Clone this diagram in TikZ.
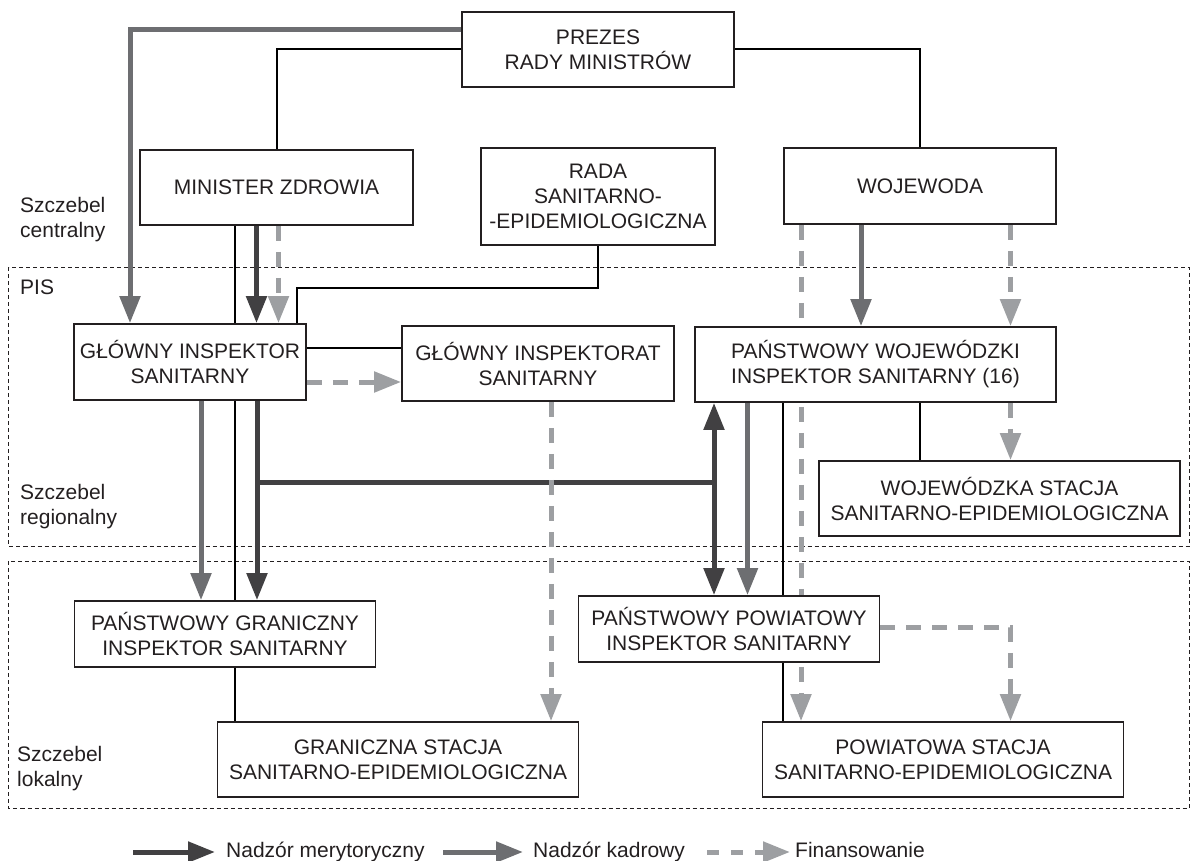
\documentclass[tikz,border=0pt]{standalone}
\usepackage{fontspec}
\setmainfont{Liberation Sans}
\usetikzlibrary{arrows.meta,backgrounds}
\definecolor{cdark}{HTML}{414042}
\definecolor{cmid}{HTML}{6D6E71}
\definecolor{clight}{HTML}{9D9FA2}
\definecolor{ctext}{HTML}{231F20}
\tikzset{
  box/.style={draw=ctext, line width=1.7pt, fill=white, inner sep=0pt, align=center, text=ctext, font=\fontsize{21}{25}\selectfont},
  lbl/.style={inner sep=0pt, align=left, text=ctext, font=\fontsize{21}{25}\selectfont},
  region/.style={draw=ctext, line width=1pt, dash pattern=on 4pt off 3pt},
  plain/.style={draw=black, line width=2pt},
  tipA/.style={-{Triangle[length=27pt,width=20pt]}},
  merit/.style={draw=cdark, line width=5pt, tipA},
  meritline/.style={draw=cdark, line width=5pt},
  meritboth/.style={draw=cdark, line width=5pt, {Triangle[length=27pt,width=20pt]}-{Triangle[length=27pt,width=20pt]}},
  kadr/.style={draw=cmid, line width=5pt, tipA},
  fin/.style={draw=clight, line width=5pt, dash pattern=on 15pt off 11pt, tipA},
}
\begin{document}
\begin{tikzpicture}[x=1pt,y=-1pt]
\useasboundingbox (0,0) rectangle (1191,861);

% boxes
\node[box, minimum width=272pt, minimum height=75pt] (prezes) at (598,49.5) {PREZES\\RADY MINISTRÓW};
\node[box, minimum width=273pt, minimum height=75pt] (mz) at (276.5,187.5) {MINISTER ZDROWIA};
\node[box, minimum width=234pt, minimum height=97pt] (rada) at (598,196.5) {RADA\\SANITARNO-\\-EPIDEMIOLOGICZNA};
\node[box, minimum width=272pt, minimum height=76pt] (woj) at (920,186) {WOJEWODA};
\node[box, minimum width=232pt, minimum height=76pt] (gis) at (190,362) {GŁÓWNY INSPEKTOR\\SANITARNY};
\node[box, minimum width=272pt, minimum height=75pt] (git) at (538,363.5) {GŁÓWNY INSPEKTORAT\\SANITARNY};
\node[box, minimum width=361pt, minimum height=75pt] (pwis) at (875.5,364.5) {PAŃSTWOWY WOJEWÓDZKI\\INSPEKTOR SANITARNY (16)};
\node[box, minimum width=361pt, minimum height=75pt] (wsse) at (999.5,498.5) {WOJEWÓDZKA STACJA\\SANITARNO-EPIDEMIOLOGICZNA};
\node[box, minimum width=301pt, minimum height=66pt] (pgis) at (225,634) {PAŃSTWOWY GRANICZNY\\INSPEKTOR SANITARNY};
\node[box, minimum width=301pt, minimum height=66pt] (ppis) at (729,629) {PAŃSTWOWY POWIATOWY\\INSPEKTOR SANITARNY};
\node[box, minimum width=361pt, minimum height=75pt] (gsse) at (398,759.5) {GRANICZNA STACJA\\SANITARNO-EPIDEMIOLOGICZNA};
\node[box, minimum width=361pt, minimum height=75pt] (psse) at (943,759.5) {POWIATOWA STACJA\\SANITARNO-EPIDEMIOLOGICZNA};

% level labels
\node[lbl, anchor=west] (lc) at (20,220) {Szczebel\\centralny};
\node[lbl, anchor=west] (pis) at (20,287) {PIS};
\node[lbl, anchor=west] (lr) at (20,507) {Szczebel\\regionalny};
\node[lbl, anchor=west] (ll) at (17,769) {Szczebel\\lokalny};

\begin{scope}[on background layer]
% regions
\draw[region] (8.5,267) rectangle (1189,546);
\draw[region] (8.5,561) rectangle (1189,808);

% from PREZES
\draw[kadr] ([yshift=19.5pt]prezes.west) -| ([xshift=-60pt]gis.north);
\draw[plain] (prezes.west) -| (mz.north);
\draw[plain] (prezes.east) -| (woj.north);

% MZ -> GIS
\draw[plain] ([xshift=-41.5pt]mz.south) -- ([xshift=-41.5pt]mz.south |- gis.north);
\draw[merit] ([xshift=-20pt]mz.south) -- ([xshift=-20pt]mz.south |- gis.north);
\draw[fin] ([xshift=2pt]mz.south) -- ([xshift=2pt]mz.south |- gis.north);

% RADA -> GIS
\draw[plain] (rada.south) -- ++(0,42) -| ([xshift=107pt]gis.north);

% GIS -> GIT
\draw[plain] ([yshift=14pt]gis.east) -- ([yshift=14pt]gis.east -| git.west);
\draw[fin] ([yshift=-20pt]gis.east) -- ([yshift=-20pt]gis.east -| git.west);

% GIS down
\draw[kadr] ([xshift=11pt]gis.south) -- ([xshift=11pt]gis.south |- pgis.north);
\draw[plain] ([xshift=45pt]gis.south) -- ([xshift=45pt]gis.south |- pgis.north);
\draw[merit] ([xshift=67pt]gis.south) -- ([xshift=67pt]gis.south |- pgis.north);
\coordinate (jl) at (257,482);
\coordinate (jr) at (714,482);
\draw[meritline] (jl) -- (jr);

% PWIS down
\draw[meritboth] ([xshift=-161.5pt]pwis.south) -- ([xshift=-161.5pt]pwis.south |- ppis.north);
\draw[kadr] ([xshift=-128pt]pwis.south) -- ([xshift=-128pt]pwis.south |- ppis.north);
\draw[plain] ([xshift=-93pt]pwis.south) -- ([xshift=-93pt]pwis.south |- ppis.north);
\draw[plain] ([xshift=-93pt]pwis.south |- ppis.south) -- ([xshift=-93pt]pwis.south |- psse.north);
\draw[plain] ([xshift=44.5pt]pwis.south) -- ([xshift=44.5pt]pwis.south |- wsse.north);
\draw[fin] ([xshift=135pt]pwis.south) -- ([xshift=135pt]pwis.south |- wsse.north);

% WOJ
\draw[fin] ([xshift=-119pt]woj.south) -- ([xshift=-119pt]woj.south |- psse.north);
\draw[kadr] ([xshift=-59pt]woj.south) -- ([xshift=-59pt]woj.south |- pwis.north);
\draw[fin] ([xshift=90.5pt]woj.south) -- ([xshift=90.5pt]woj.south |- pwis.north);

% GIT -> GSSE
\draw[fin] ([xshift=13pt]git.south) -- ([xshift=13pt]git.south |- gsse.north);

% PPIS -> PSSE
\draw[fin] ([yshift=2pt]ppis.east) -| ([xshift=67.5pt]psse.north);

% PGIS -> GSSE
\draw[plain] ([xshift=10pt]pgis.south) -- ([xshift=10pt]pgis.south |- gsse.north);
\end{scope}

% legend
\node[lbl, anchor=base west] (leg1) at (226,857) {Nadzór merytoryczny};
\node[lbl, anchor=base west] (leg2) at (533,857) {Nadzór kadrowy};
\node[lbl, anchor=base west] (leg3) at (795,857) {Finansowanie};
\coordinate (s1) at (133,852);
\coordinate (s2) at (443,852);
\coordinate (s3) at (707,852);
\draw[merit] (s1) -- ([xshift=-11pt]leg1.west |- s1);
\draw[kadr] (s2) -- ([xshift=-10pt]leg2.west |- s2);
\draw[fin, dash pattern=on 12pt off 12pt] (s3) -- ([xshift=-5pt]leg3.west |- s3);
\end{tikzpicture}
\end{document}
